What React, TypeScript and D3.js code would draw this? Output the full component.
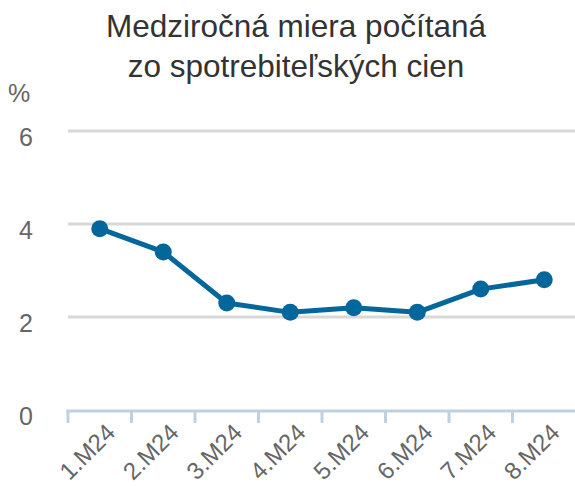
import React from "react";
import * as d3 from "d3";

const categories = ["1.M24", "2.M24", "3.M24", "4.M24", "5.M24", "6.M24", "7.M24", "8.M24"];
const values = [3.9, 3.4, 2.3, 2.1, 2.2, 2.1, 2.6, 2.8];
const yTicks = [0, 2, 4, 6];
const titleLines = ["Medziročná miera počítaná", "zo spotrebiteľských cien"];
const unitLabel = "%";

const W = 575;
const H = 486;

export default function App() {
  const x = d3.scaleBand<string>().domain(categories).range([68, 576]).padding(0);
  const y = d3.scaleLinear().domain([0, 6]).range([410, 131]);
  const line = d3
    .line<number>()
    .x((_, i) => (x(categories[i]) as number) + x.bandwidth() / 2)
    .y((d) => y(d));
  const font = "'Liberation Sans', Arial, sans-serif";
  const boundaries = categories.map((c) => x(c) as number);

  return (
    <svg
      width={W}
      height={H}
      style={{ position: "absolute", left: 0, top: 0, display: "block", background: "#fff" }}
      fontFamily={font}
    >
      {titleLines.map((t, i) => (
        <text key={t} x={296} y={37 + i * 40} textAnchor="middle" fontSize={31.5} fill="#333">
          {t}
        </text>
      ))}
      <text x={8} y={102} fontSize={25} fill="#666">
        {unitLabel}
      </text>
      {yTicks.filter((t) => t !== 0).map((t) => (
        <line key={t} x1={68} x2={W} y1={y(t)} y2={y(t)} stroke="#d8d8d8" strokeWidth={3} />
      ))}
      {yTicks.map((t) => (
        <text key={"l" + t} x={33} y={y(t) + 15} textAnchor="end" fontSize={25} fill="#666">
          {t}
        </text>
      ))}
      <line x1={66.5} x2={W} y1={y(0) + 1} y2={y(0) + 1} stroke="#c0d0e0" strokeWidth={3} />
      {boundaries.map((b, i) => (
        <line key={"t" + i} x1={b} x2={b} y1={y(0)} y2={y(0) + 13} stroke="#c0d0e0" strokeWidth={3} />
      ))}
      {categories.map((c) => {
        const ax = (x(c) as number) + x.bandwidth() / 2 + 17;
        const ay = 434;
        return (
          <text
            key={c}
            x={ax}
            y={ay}
            textAnchor="end"
            fontSize={24}
            fill="#666"
            transform={`rotate(-45 ${ax} ${ay})`}
          >
            {c}
          </text>
        );
      })}
      <path d={line(values) as string} fill="none" stroke="#04679c" strokeWidth={5} strokeLinejoin="round" />
      {values.map((v, i) => (
        <circle
          key={i}
          cx={(x(categories[i]) as number) + x.bandwidth() / 2}
          cy={y(v)}
          r={8.5}
          fill="#04679c"
        />
      ))}
    </svg>
  );
}
